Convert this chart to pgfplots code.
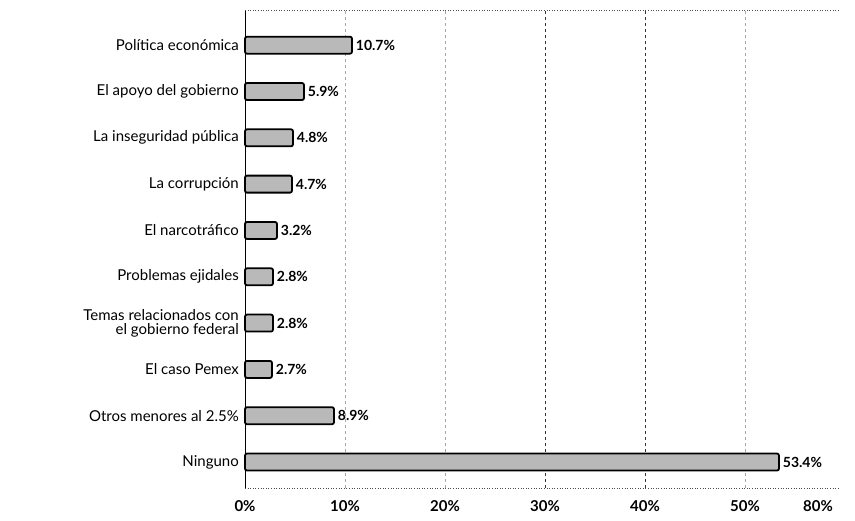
\documentclass[border=0pt]{standalone}
\usepackage{pgfplots}
\pgfplotsset{compat=1.18}
\usepackage{pgfplotstable}
\usepackage{fontspec}
\setmainfont{Lato}
\pgfplotstableread{
y val
9 10.7
8 5.9
7 4.8
6 4.7
5 3.2
4 2.8
3 2.8
2 2.7
1 8.9
0 53.4
}\datatable
\begin{document}
\begin{tikzpicture}[x=1pt,y=1pt]
\path[use as bounding box] (0,0) rectangle (855,521);
\begin{axis}[
  at={(245pt,33pt)}, anchor=south west,
  scale only axis, width=595pt, height=478pt,
  xbar, bar width=17pt,
  xmin=0, xmax=59.5, ymin=-0.56, ymax=9.76,
  xtick={0,10,20,30,40,50,57.3},
  xticklabels={0\%,10\%,20\%,30\%,40\%,50\%,80\%},
  ytick={0,...,9},
  yticklabels={Ninguno, Otros menores al 2.5\%, El caso Pemex, {Temas relacionados con\\el gobierno federal}, Problemas ejidales, El narcotráfico, La corrupción, La inseguridad pública, El apoyo del gobierno, Política económica},
  yticklabel style={align=right, font=\fontsize{15}{14}\selectfont, inner sep=6pt},
  xticklabel style={font=\fontsize{15}{16}\selectfont\bfseries, yshift=-9pt},
  /pgf/number format/assume math mode=true,
  major tick length=0pt,
  axis line style={draw=none},
  nodes near coords={\pgfmathprintnumber[fixed,precision=1,fixed zerofill]{\pgfplotspointmeta}\%},
  nodes near coords align={horizontal},
  nodes near coords style={font=\fontsize{14}{15}\selectfont\bfseries, inner sep=3pt},
  point meta=explicit,
  clip=false,
]
\draw[gray!70, dashed, line width=0.5pt] (axis cs:10,-0.56) -- (axis cs:10,9.76);
\draw[gray!70, dashed, line width=0.5pt] (axis cs:20,-0.56) -- (axis cs:20,9.76);
\draw[black!80, dashed, line width=0.6pt] (axis cs:30,-0.56) -- (axis cs:30,9.76);
\draw[black!80, dashed, line width=0.6pt] (axis cs:40,-0.56) -- (axis cs:40,9.76);
\draw[gray!70, dashed, line width=0.5pt] (axis cs:50,-0.56) -- (axis cs:50,9.76);
\draw[black, line width=0.8pt] (rel axis cs:0,0) -- (rel axis cs:0,1);
\draw[black!70, dotted, line width=0.6pt] (rel axis cs:0,1) -- (rel axis cs:1,1);
\draw[black!70, dotted, line width=0.6pt] (rel axis cs:0,0) -- (rel axis cs:1,0);
\addplot[draw=black, line width=1.8pt, fill=gray!55, rounded corners=2pt]
  table[x=val, y=y, meta=val] {\datatable};
\end{axis}
\end{tikzpicture}
\end{document}
